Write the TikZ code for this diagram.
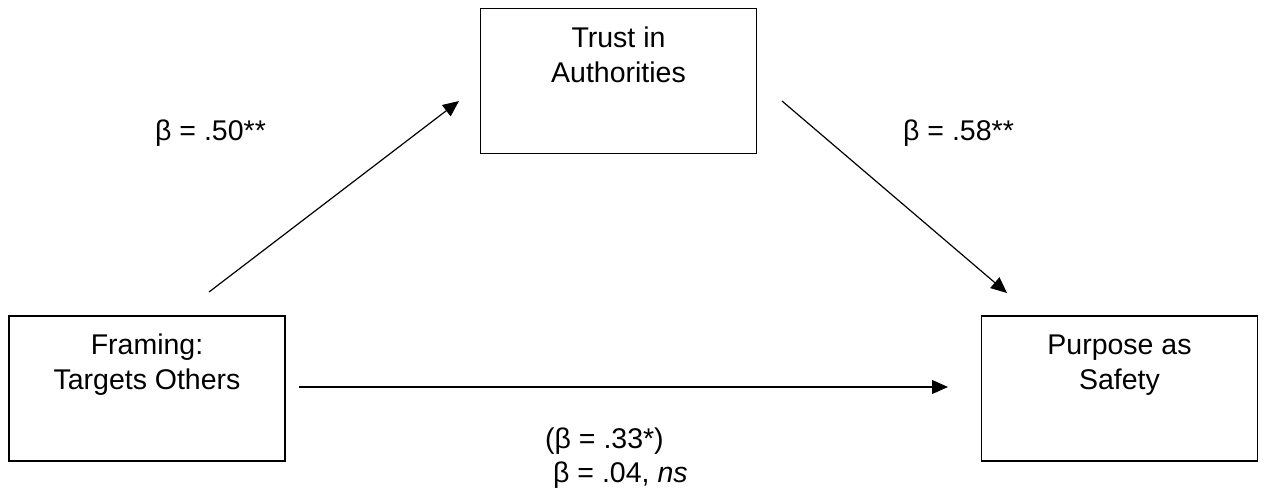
\documentclass[tikz,border=0pt]{standalone}
\usepackage{fontspec}
\setmainfont{Liberation Sans}
\usetikzlibrary{arrows.meta}
\begin{document}
\begin{tikzpicture}[x=1pt,y=-1pt,
  every node/.style={font=\fontsize{28.5}{34.5}\selectfont},
  varbox/.style={draw=black, line width=1.3pt, minimum width=276pt, minimum height=145pt, inner sep=0pt},
  boxtext/.style={anchor=base, align=center, inner sep=0pt},
  coef/.style={anchor=base west, inner sep=0pt},
  path/.style={line width=1.2pt, -{Triangle[length=16pt,width=14pt]}}]
  \useasboundingbox (0,0) rectangle (1264,493);
  % the three variables
  \node[varbox] (frame) at (147,388.5) {};
  \node[varbox] (trust) at (618.5,81) {};
  \node[varbox] (safety) at (1119.5,388.5) {};
  % box labels, placed by the baseline of their last line
  \node[boxtext] (frametxt) at (147,389) {Framing:\\Targets Others};
  \node[boxtext] (trusttxt) at (618.5,82) {Trust in\\Authorities};
  \node[boxtext] (safetytxt) at (1119.5,389) {Purpose as\\Safety};
  % free ends of the paths
  \coordinate (aS) at (209,292);
  \coordinate (aE) at (459,101);
  \coordinate (bS) at (782,101);
  \coordinate (bE) at (1007,293);
  \coordinate (cS) at (299,387);
  \coordinate (cE) at (948,387);
  \draw[path] (aS) -- (aE);
  \draw[path] (bS) -- (bE);
  \draw[path] (cS) -- (cE);
  % path coefficients
  \node[coef] (ca) at (155,140) {β = .50**};
  \node[coef] (cb) at (903,140) {β = .58**};
  \node[coef] (cc) at (545,448) {(β = .33*)};
  \node[coef] (cd) at (553,482) {β = .04, \textit{ns}};
\end{tikzpicture}
\end{document}
